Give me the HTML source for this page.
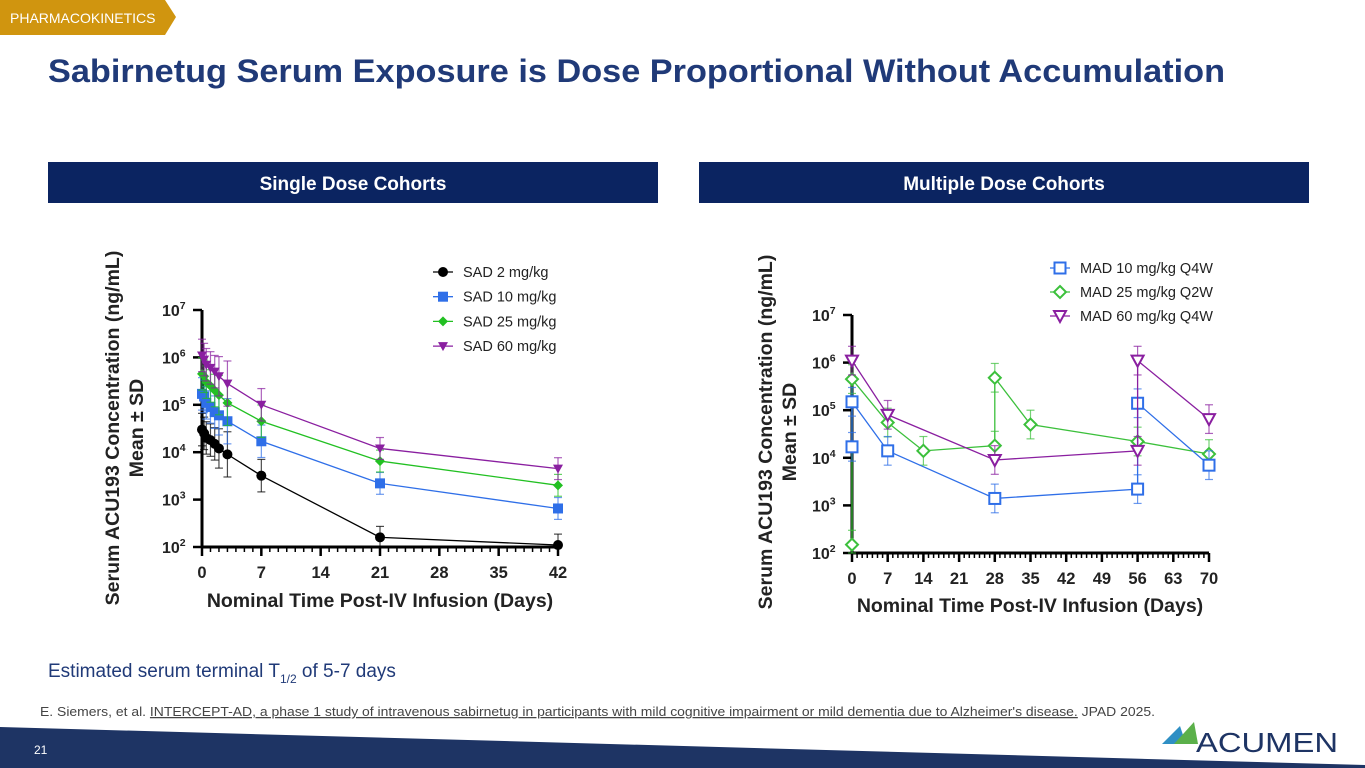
<!DOCTYPE html>
<html><head><meta charset="utf-8"><style>
body{margin:0;width:1365px;height:768px;overflow:hidden;background:#fff;font-family:"Liberation Sans",sans-serif;}
svg{position:absolute;left:0;top:0}
</style></head><body>
<svg id="s" width="1365" height="768" viewBox="0 0 1365 768">
<polygon points="0,0 165,0 176,17 165,35 0,35" fill="#d0950f"/>
<text x="10" y="23" font-size="14" fill="#fff">PHARMACOKINETICS</text>
<text x="48" y="82" font-size="32" font-weight="bold" fill="#203a78" textLength="1177" lengthAdjust="spacingAndGlyphs">Sabirnetug Serum Exposure is Dose Proportional Without Accumulation</text>
<rect x="48" y="162" width="610" height="41" fill="#0b2461"/>
<text x="353" y="190" font-size="19" font-weight="bold" fill="#fff" text-anchor="middle">Single Dose Cohorts</text>
<rect x="699" y="162" width="610" height="41" fill="#0b2461"/>
<text x="1004" y="190" font-size="19" font-weight="bold" fill="#fff" text-anchor="middle">Multiple Dose Cohorts</text>
<g id="c1"></g>
<g id="c2"></g>
<text x="48" y="677" font-size="19" fill="#203a78">Estimated serum terminal T<tspan font-size="12" dy="6">1/2</tspan><tspan dy="-6"> of 5-7 days</tspan></text>
<text x="40" y="716" font-size="12.5" fill="#444" textLength="1115" lengthAdjust="spacingAndGlyphs">E. Siemers, et al. <tspan text-decoration="underline">INTERCEPT-AD, a phase 1 study of intravenous sabirnetug in participants with mild cognitive impairment or mild dementia due to Alzheimer's disease.</tspan> JPAD 2025.</text>
<polygon points="0,727 1365,765 1365,768 0,768" fill="#1e3464"/>
<text x="34" y="754" font-size="12" fill="#fff">21</text>
<polygon points="1162,744 1180,726 1186,744" fill="#2f8fc4"/>
<polygon points="1174,744 1194,722 1198,744" fill="#5bb04a"/>
<text x="1196" y="752" font-size="28" fill="#1e3464" textLength="142" lengthAdjust="spacingAndGlyphs">ACUMEN</text>
</svg>
<script>
// ---- Single dose data ----
const sadTimes = [0,0.25,0.5,1,1.5,2,3,7,21,42];
const sad2 = [30000,25000,20000,18000,15000,12000,9000,3200,160,110];
const sad10 = [170000,150000,110000,90000,70000,60000,45000,17000,2200,650];
const sad25 = [450000,400000,300000,250000,200000,160000,110000,45000,6500,2000];
const sad60 = [1100000,900000,700000,600000,500000,400000,280000,100000,12000,4500];
const sadSdFactor = [2.2,2.2,2.2,2.2,2.2,2.6,3,2.2,1.7,1.7];
const sadNames = ["SAD 2 mg/kg","SAD 10 mg/kg","SAD 25 mg/kg","SAD 60 mg/kg"];
const xTicks1 = [0,7,14,21,28,35,42];
// ---- Multiple dose data ----
const mad10T = [0,0,7,28,56,56,70];
const mad10V = [17000,150000,14000,1400,2200,140000,7000];
const mad25T = [0,0,7,14,28,28,35,56,70];
const mad25V = [150,450000,55000,14000,18000,480000,50000,22000,12000];
const mad60T = [0,7,28,56,56,70];
const mad60V = [1100000,80000,9000,14000,1100000,65000];
const madNames = ["MAD 10 mg/kg Q4W","MAD 25 mg/kg Q2W","MAD 60 mg/kg Q4W"];
const xTicks2 = [0,7,14,21,28,35,42,49,56,63,70];
const yExps = [2,3,4,5,6,7];

const NS="http://www.w3.org/2000/svg";
function mk(p,tag,at){const e=document.createElementNS(NS,tag);for(const k in at)e.setAttribute(k,at[k]);p.appendChild(e);return e;}

function axes(g,X,Y,x0,x1,xt,minorStep,tx,ty){
  const ax=mk(g,'line',{x1:X(x0),y1:Y(1e7),x2:X(x0),y2:Y(100),stroke:'#000','stroke-width':3});
  
  const bx=mk(g,'line',{x1:X(x0),y1:Y(100),x2:X(x1),y2:Y(100),stroke:'#000','stroke-width':3});
  
  for(let d=x0;d<=x1;d+=minorStep){const m=mk(g,'line',{x1:X(d),y1:Y(100),x2:X(d),y2:Y(100)+5,stroke:'#000','stroke-width':1.5});
    }
  xt.forEach(v=>{mk(g,'line',{x1:X(v),y1:Y(100),x2:X(v),y2:Y(100)+9,stroke:'#000','stroke-width':2.5});
    const t=mk(g,'text',{x:X(v),y:Y(100)+31,'font-size':16.5,'font-weight':'bold','text-anchor':'middle',fill:'#222'});t.textContent=v;
    });
  yExps.forEach(e=>{const y=Y(Math.pow(10,e));mk(g,'line',{x1:X(x0)-9,y1:y,x2:X(x0),y2:y,stroke:'#000','stroke-width':2.5});
    const t=mk(g,'text',{x:X(x0)-40,y:y+6,'font-size':16,'font-weight':'bold',fill:'#222'});t.textContent='10';
    const s=mk(t,'tspan',{dy:-7,'font-size':10.5});s.textContent=e;
    });
  const t1=mk(g,'text',{x:0,y:0,'font-size':19.5,'font-weight':'bold','text-anchor':'middle',fill:'#222',transform:`translate(${tx+2},${ty}) rotate(-90)`});
  t1.textContent='Serum ACU193 Concentration (ng/mL)';
  
  const t2=mk(g,'text',{x:0,y:0,'font-size':19.5,'font-weight':'bold','text-anchor':'middle',fill:'#222',transform:`translate(${tx+26},${ty}) rotate(-90)`});
  t2.textContent='Mean ± SD';
  
}
function marker(g,type,x,y,c){
  let e;
  if(type==='circle')e=mk(g,'circle',{cx:x,cy:y,r:5,fill:c});
  else if(type==='square')e=mk(g,'rect',{x:x-5,y:y-5,width:10,height:10,fill:c});
  else if(type==='diamond')e=mk(g,'polygon',{points:`${x},${y-5} ${x+5},${y} ${x},${y+5} ${x-5},${y}`,fill:c});
  else if(type==='tri')e=mk(g,'polygon',{points:`${x-5},${y-4} ${x+5},${y-4} ${x},${y+5}`,fill:c});
  else if(type==='osquare')e=mk(g,'rect',{x:x-5.5,y:y-5.5,width:11,height:11,fill:'#fff',stroke:c,'stroke-width':2});
  else if(type==='odiamond')e=mk(g,'polygon',{points:`${x},${y-6} ${x+6},${y} ${x},${y+6} ${x-6},${y}`,fill:'#fff',stroke:c,'stroke-width':2});
  else e=mk(g,'polygon',{points:`${x-6},${y-5} ${x+6},${y-5} ${x},${y+6}`,fill:'#fff',stroke:c,'stroke-width':2});
  
}
function series(g,X,Y,ts,vs,c,type,sd,name){
  const sg=mk(g,'g',{});
  ts.forEach((t,i)=>{const f=sd?sd[i]:2;const x=X(t);
    const lo=Math.max(100,vs[i]/f),hi=vs[i]*f;
    mk(sg,'line',{x1:x,y1:Y(lo),x2:x,y2:Y(hi),stroke:c,'stroke-width':1.2,opacity:.7});
    mk(sg,'line',{x1:x-4,y1:Y(hi),x2:x+4,y2:Y(hi),stroke:c,'stroke-width':1.2,opacity:.7});
    mk(sg,'line',{x1:x-4,y1:Y(lo),x2:x+4,y2:Y(lo),stroke:c,'stroke-width':1.2,opacity:.7});});
  const p=mk(sg,'polyline',{points:ts.map((t,i)=>X(t)+','+Y(vs[i])).join(' '),fill:'none',stroke:c,'stroke-width':1.3});
  
  ts.forEach((t,i)=>marker(sg,type,X(t),Y(vs[i]),c));
}
function legend(g,x,y0,dy,names,cols,types){
  names.forEach((n,i)=>{const y=y0+i*dy;const lg=mk(g,'g',{});
    
    mk(lg,'line',{x1:x,y1:y,x2:x+20,y2:y,stroke:cols[i],'stroke-width':1.3});
    marker(lg,types[i],x+10,y,cols[i]);
    const t=mk(lg,'text',{x:x+30,y:y+5,'font-size':14.5,fill:'#222'});t.textContent=n;});
}
// chart 1
{const g=document.getElementById('c1');
 const X=d=>202+d*(356/42), Y=v=>547-(Math.log10(v)-2)*47.4;
 axes(g,X,Y,0,42,xTicks1,1,117,428);
 const tx=mk(g,'text',{x:380,y:607,'font-size':19.5,'font-weight':'bold','text-anchor':'middle',fill:'#222'});
 tx.textContent='Nominal Time Post-IV Infusion (Days)';
 const cols=['#000','#2f6fe8','#22c022','#8a1fa0'],types=['circle','square','diamond','tri'];
 [sad2,sad10,sad25,sad60].forEach((s,i)=>series(g,X,Y,sadTimes,s,cols[i],types[i],sadSdFactor,'series-sad-'+i));
 legend(g,433,272,24.7,sadNames,cols,types);}
// chart 2
{const g=document.getElementById('c2');
 const X=d=>852+d*(357/70), Y=v=>553-(Math.log10(v)-2)*47.6;
 axes(g,X,Y,0,70,xTicks2,1,770,432);
 const tx=mk(g,'text',{x:1030,y:612,'font-size':19.5,'font-weight':'bold','text-anchor':'middle',fill:'#222'});
 tx.textContent='Nominal Time Post-IV Infusion (Days)';
 const cols=['#2f6fe8','#3cc03c','#8a1fa0'],types=['osquare','odiamond','otri'];
 series(g,X,Y,mad25T,mad25V,cols[1],types[1],null,'series-mad25');
 series(g,X,Y,mad10T,mad10V,cols[0],types[0],null,'series-mad10');
 series(g,X,Y,mad60T,mad60V,cols[2],types[2],null,'series-mad60');
 legend(g,1050,268,24,madNames,cols,types);}
</script>
</body></html>
